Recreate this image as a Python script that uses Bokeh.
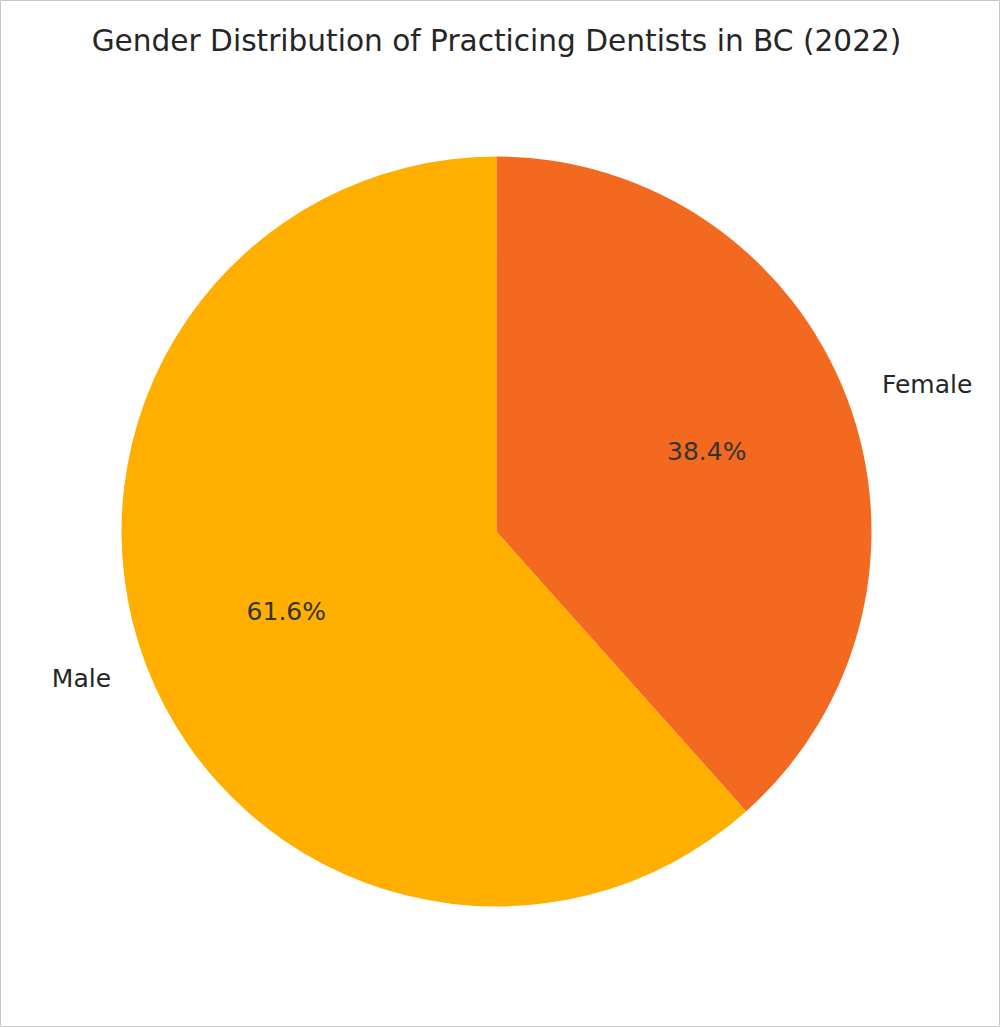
import numpy as np
from bokeh.plotting import figure
from bokeh.models import Range1d, ColumnDataSource
from bokeh.core.properties import value
from bokeh.embed import file_html
from bokeh.resources import INLINE

title = "Gender Distribution of Practicing Dentists in BC (2022)"
categories = ["Male", "Female"]
shares = [61.6, 38.4]
colors = ["#FFAF00", "#F46920"]

W, H = 1000, 1027
cx, cy, r = 496, H - 531, 375

vals = np.array(shares, dtype=float)
frac = vals / vals.sum()
ends = np.pi / 2 + 2 * np.pi * np.cumsum(frac)
starts = ends - 2 * np.pi * frac
mids = (starts + ends) / 2

src = ColumnDataSource(dict(start=starts, end=ends, color=colors))

p = figure(width=W, height=H, output_backend="svg", toolbar_location=None,
           x_range=Range1d(0, W), y_range=Range1d(0, H), min_border=0)
p.axis.visible = False
p.grid.visible = False
p.outline_line_color = "#c8c8c8"
p.outline_line_width = 1
p.background_fill_color = "white"
p.border_fill_color = "white"

p.wedge(x=cx, y=cy, radius=r, start_angle="start", end_angle="end",
        fill_color="color", line_color=None, source=src)

font = value("DejaVu Sans")
# category labels at 1.1 r
lx = cx + 1.1 * r * np.cos(mids)
ly = cy + 1.1 * r * np.sin(mids)
for x, y, c, m in zip(lx, ly, categories, mids):
    align = "left" if np.cos(m) >= 0 else "right"
    p.text(x=[x], y=[y], text=[c], text_font=font, text_font_size="25px",
           text_align=align, text_baseline="middle", text_color="#262626")

# percent labels at 0.6 r
px_ = cx + 0.6 * r * np.cos(mids)
py_ = cy + 0.6 * r * np.sin(mids)
pct = ["%.1f%%" % v for v in frac * 100]
p.text(x=px_, y=py_, text=pct, text_font=font, text_font_size="25px",
       text_align="center", text_baseline="middle", text_color="#333333")

p.text(x=[496], y=[H - 40], text=[title], text_font=font, text_font_size="29.6px",
       text_align="center", text_baseline="middle", text_color="#262626")

open("out.html", "w").write(file_html(p, INLINE))
